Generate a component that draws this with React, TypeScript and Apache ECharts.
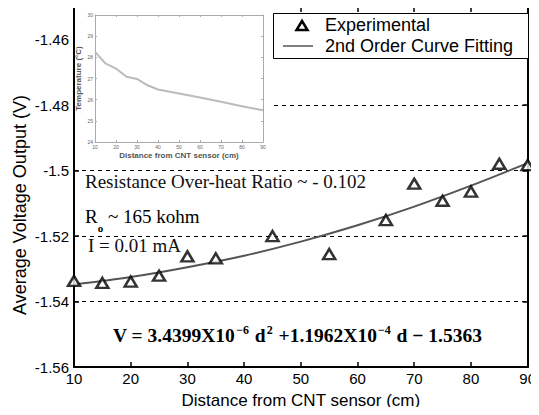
import React, { useEffect, useRef } from "react";
import * as echarts from "echarts";

const expD = [10, 15, 20, 25, 30, 35, 45, 55, 65, 70, 75, 80, 85, 90];
const expV = [-1.5337, -1.5343, -1.5339, -1.5321, -1.5262, -1.5268, -1.52, -1.5255, -1.5151, -1.504, -1.5092, -1.5064, -1.4979, -1.4983];
const fitD = [10, 20, 30, 40, 50, 60, 70, 80, 90];
const fitV = [-1.5348, -1.5325, -1.5295, -1.526, -1.5217, -1.5167, -1.511, -1.5046, -1.4977];
const tempD = [10, 15, 20, 25, 30, 35, 40, 50, 60, 70, 80, 90];
const tempC = [28.26, 27.71, 27.47, 27.08, 26.98, 26.68, 26.48, 26.29, 26.1, 25.9, 25.69, 25.5];
const seriesNames = ["Experimental", "2nd Order Curve Fitting"];

const SANS = "'Liberation Sans', Arial, sans-serif";
const SERIF = "'Liberation Serif', 'Times New Roman', serif";

export default function App() {
  const ref = useRef<HTMLDivElement>(null);
  useEffect(() => {
    const chart = echarts.init(ref.current!, null, { renderer: "svg" });
    const hiddenAxis = {
      axisLine: { show: true, lineStyle: { color: "#000", width: 2 } },
      axisTick: { show: true, inside: true, length: 5, lineStyle: { color: "#000", width: 1.5 } },
      axisLabel: { show: false },
      splitLine: { show: false },
    };
    const insetAxisLine = { show: true, lineStyle: { color: "#aaa", width: 1 } };
    const insetTick = { show: true, inside: true, length: 2, lineStyle: { color: "#aaa" } };
    chart.setOption({
      animation: false,
      backgroundColor: "#fff",
      grid: [
        { left: 74, right: 7, top: 7, bottom: 48 },
        { left: 95, top: 15, width: 168, height: 127, z: 10 },
      ],
      xAxis: [
        {
          type: "value", gridIndex: 0, min: 10, max: 90, interval: 10,
          name: "Distance from CNT sensor (cm)", nameLocation: "middle", nameGap: 25,
          nameTextStyle: { fontSize: 17, fontFamily: SANS, color: "#000" },
          axisLine: { show: true, lineStyle: { color: "#000", width: 2 } },
          axisTick: { show: true, inside: true, length: 5, lineStyle: { color: "#000", width: 1.5 } },
          axisLabel: { fontSize: 15, fontFamily: SANS, color: "#000", margin: 4 },
          splitLine: { show: false },
        },
        { type: "value", gridIndex: 0, position: "top", min: 10, max: 90, interval: 10, ...hiddenAxis },
        {
          type: "value", gridIndex: 1, min: 10, max: 90, interval: 10, z: 10,
          name: "Distance from CNT sensor (cm)", nameLocation: "middle", nameGap: 9,
          nameTextStyle: { fontSize: 8, fontWeight: "bold", fontFamily: SANS, color: "#555" },
          axisLine: insetAxisLine, axisTick: insetTick,
          axisLabel: { fontSize: 5, color: "#666", margin: 2 },
          splitLine: { show: false },
        },
        { type: "value", gridIndex: 1, position: "top", min: 10, max: 90, interval: 10, z: 10,
          axisLine: insetAxisLine, axisTick: insetTick, axisLabel: { show: false }, splitLine: { show: false } },
      ],
      yAxis: [
        {
          type: "value", gridIndex: 0, min: -1.56, max: -1.45, interval: 0.02,
          axisLine: { show: true, lineStyle: { color: "#000", width: 2 } },
          axisTick: { show: true, inside: true, length: 5, lineStyle: { color: "#000", width: 1.5 } },
          axisLabel: {
            fontSize: 15, fontFamily: SANS, color: "#000", margin: 5, showMaxLabel: false,
            formatter: (v: number) => String(+v.toFixed(2)),
          },
          splitLine: { show: true, lineStyle: { color: "#000", width: 1, type: [4, 4] } },
        },
        { type: "value", gridIndex: 0, position: "right", min: -1.56, max: -1.45, interval: 0.02, ...hiddenAxis },
        {
          type: "value", gridIndex: 1, min: 24, max: 30, interval: 1, z: 10,
          name: "Temperature (°C)", nameLocation: "middle", nameGap: 13,
          nameTextStyle: { fontSize: 8, fontWeight: "bold", fontFamily: SANS, color: "#555" },
          axisLine: insetAxisLine, axisTick: insetTick,
          axisLabel: { fontSize: 5, color: "#666", margin: 2 },
          splitLine: { show: false },
        },
        { type: "value", gridIndex: 1, position: "right", min: 24, max: 30, interval: 1, z: 10,
          axisLine: insetAxisLine, axisTick: insetTick, axisLabel: { show: false }, splitLine: { show: false } },
      ],
      graphic: [
        { type: "rect", z: 5, shape: { x: 75, y: 8, width: 196, height: 157 }, style: { fill: "#fff" } },
        {
          type: "text", z: 20, x: 20, y: 205, rotation: Math.PI / 2,
          style: { text: "Average Voltage Output (V)", font: `18px ${SANS}`, fill: "#000", textAlign: "center", textVerticalAlign: "middle" },
        },
        // legend
        { type: "rect", z: 20, shape: { x: 273.5, y: 13.5, width: 255, height: 45 }, style: { fill: "#fff", stroke: "#000", lineWidth: 1 } },
        { type: "polygon", z: 21, shape: { points: [[296.5, 30], [307.5, 30], [302, 21]] }, style: { fill: "#fff", stroke: "#000", lineWidth: 2.5 } },
        { type: "line", z: 21, shape: { x1: 283, y1: 46, x2: 313, y2: 46 }, style: { stroke: "#555", lineWidth: 1.5 } },
        { type: "text", z: 21, x: 325, y: 25, style: { text: seriesNames[0], font: `18px ${SANS}`, fill: "#000", textVerticalAlign: "middle" } },
        { type: "text", z: 21, x: 325, y: 46, style: { text: seriesNames[1], font: `18px ${SANS}`, fill: "#000", textVerticalAlign: "middle" } },
        // annotations
        {
          type: "text", z: 20, x: 85, y: 181,
          style: { text: "Resistance Over-heat Ratio ~ - 0.102", font: `19px ${SERIF}`, fill: "#111", textVerticalAlign: "middle" },
        },
        {
          type: "text", z: 20, x: 85, y: 220,
          style: {
            text: "{n|R}{s|o}{n| ~ 165 kohm}",
            textVerticalAlign: "middle",
            rich: {
              n: { fontSize: 19, fontFamily: SERIF, color: "#111", lineHeight: 26, verticalAlign: "top" },
              s: { fontSize: 11, fontFamily: SERIF, color: "#111", verticalAlign: "bottom", fontWeight: "bold" },
            },
          },
        },
        {
          type: "text", z: 20, x: 88, y: 245,
          style: { text: "I = 0.01 mA", font: `19px ${SERIF}`, fill: "#111", textVerticalAlign: "middle" },
        },
        {
          type: "text", z: 20, x: 113, y: 335,
          style: {
            text: "{b|V = 3.4399X10}{p|−6}{b| d}{p|2}{b| +1.1962X10}{p|−4}{b| d − 1.5363}",
            textVerticalAlign: "middle",
            rich: {
              b: { fontSize: 19.5, fontWeight: "bold", fontFamily: SERIF, color: "#111", lineHeight: 22 },
              p: { fontSize: 12, fontWeight: "bold", fontFamily: SERIF, color: "#111", verticalAlign: "top", padding: [0, 1, 0, 1] },
            },
          },
        },
      ],
      series: [
        {
          name: seriesNames[0], type: "scatter", xAxisIndex: 0, yAxisIndex: 0, z: 4,
          data: expD.map((d, i) => [d, expV[i]]),
          symbol: "triangle", symbolSize: [12, 10],
          itemStyle: { color: "#fff", borderColor: "#000", borderWidth: 2.5 },
        },
        {
          name: seriesNames[1], type: "line", xAxisIndex: 0, yAxisIndex: 0, z: 3,
          data: fitD.map((d, i) => [d, fitV[i]]),
          smooth: 0.3, symbol: "none", showSymbol: false,
          lineStyle: { color: "#555", width: 2 }, itemStyle: { color: "#555" },
        },
        {
          name: "Temperature", type: "line", xAxisIndex: 2, yAxisIndex: 2, z: 12,
          data: tempD.map((d, i) => [d, tempC[i]]),
          symbol: "none", lineStyle: { color: "#bbb", width: 2 },
        },
      ],
    });
    return () => chart.dispose();
  }, []);
  return <div ref={ref} style={{ width: 539, height: 415, margin: -8 }} />;
}
